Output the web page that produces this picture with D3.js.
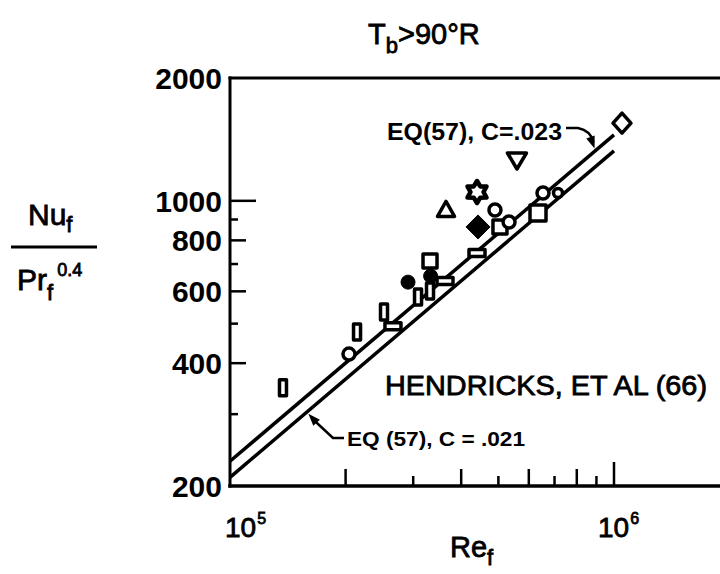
<!DOCTYPE html>
<html><head><meta charset="utf-8">
<script src="https://cdn.jsdelivr.net/npm/d3@7"></script>
<style>
html,body{margin:0;padding:0;background:#fff;}
svg{display:block;}
text{font-family:"Liberation Sans",Arial,sans-serif;fill:#000;}
.heavy{stroke:#000;stroke-width:0.8px;}
</style></head><body>
<svg id="chart" width="720" height="574"></svg>
<script>
// Test runs: Reynolds number, Nu/Pr^0.4 and plotting symbol
const runRe = [1.374e5, 2.142e5, 2.041e5, 2.518e5, 2.657e5, 2.908e5, 3.088e5, 3.318e5, 3.318e5, 3.33e5,
               3.63e5, 4.398e5, 4.425e5, 3.652e5, 4.398e5, 5.588e5, 4.898e5, 5.047e5, 5.329e5, 6.34e5,
               6.533e5, 7.148e5, 1.049e6];
const runNu = [348, 477, 421, 534, 493, 632, 581, 712, 601, 654,
               636, 745, 863, 950, 1051, 1259, 950, 863, 887, 934,
               1045, 1045, 1551];
const runSymbol = ["bar", "bar", "ring", "bar", "slab", "dot", "bar", "square", "bar", "dot",
                   "slab", "slab", "diamondFilled", "triUp", "star", "triDown", "ring", "square", "ring", "bigSquare",
                   "ring", "smallRing", "diamond"];

// EQ(57) correlation lines, Nu/Pr^0.4 = C Re^0.8, at the ends of the Re range
const eqRe = [1e5, 1e6];
const eqC023 = [230, 1451];
const eqC021 = [210, 1325];

// Axis ticks and labels
const yTickValues = [300, 400, 500, 600, 700, 800, 900, 1000];
const yLabelValues = [200, 400, 600, 800, 1000, 2000];
const xTickValues = [2e5, 3e5, 4e5, 5e5, 6e5, 7e5, 8e5, 9e5, 1e6];
const xLabelValues = [1e5, 1e6];

const W = 720, H = 574;
const svg = d3.select("#chart");

const x = d3.scaleLog().domain([1e5, 1e6]).range([230, 614]);
const y = d3.scaleLog().domain([200, 2000]).range([486, 78]);

const x0 = x.range()[0], yBot = y.range()[0], yTop = y.range()[1];

// Frame: left axis, bottom axis and top rule run off to the right edge
const frame = svg.append("g").attr("stroke", "#000").attr("fill", "none").attr("stroke-linecap", "square");
frame.append("line").attr("x1", x0).attr("x2", x0).attr("y1", yTop).attr("y2", yBot).attr("stroke-width", 3);
frame.append("line").attr("x1", x0).attr("x2", W).attr("y1", yBot).attr("y2", yBot).attr("stroke-width", 3.5);
frame.append("line").attr("x1", x0).attr("x2", W).attr("y1", yTop).attr("y2", yTop).attr("stroke-width", 3);

// Inward ticks: decade ticks longest, even multiples medium, odd multiples short
const yLen = v => v === 1000 ? 26 : ((v / 100) % 2 === 0 ? 16 : 8);
const xLen = v => v === 1e6 ? 24 : ((Math.round(v / 1e5)) % 2 === 0 ? 17 : 10);

frame.selectAll("line.yt").data(yTickValues).join("line").attr("class", "yt")
  .attr("x1", x0).attr("x2", d => x0 + yLen(d))
  .attr("y1", d => y(d)).attr("y2", d => y(d)).attr("stroke-width", 2.5).attr("stroke-linecap", "butt");
frame.selectAll("line.xt").data(xTickValues).join("line").attr("class", "xt")
  .attr("x1", d => x(d)).attr("x2", d => x(d))
  .attr("y1", yBot).attr("y2", d => yBot - xLen(d)).attr("stroke-width", 2.5).attr("stroke-linecap", "butt");

// Y tick labels
svg.selectAll("text.yl").data(yLabelValues).join("text").attr("class", "yl")
  .attr("x", x0 - 8).attr("y", d => y(d) + 11)
  .attr("text-anchor", "end").attr("font-size", 30).attr("font-weight", "bold")
  .text(d => d);

// X tick labels as powers of ten
const xl = svg.selectAll("text.xl").data(xLabelValues).join("text").attr("class", "xl heavy")
  .attr("x", d => x(d) + (d === 1e5 ? -5 : -16)).attr("y", 537)
  .attr("font-size", 28);
xl.append("tspan").text("10");
xl.append("tspan").attr("dy", -13).attr("dx", 1).attr("font-size", 16).text(d => Math.round(Math.log10(d)));

// Correlation lines
const eqLine = d3.line().x(d => x(d[0])).y(d => y(d[1]));
[eqC023, eqC021].forEach(vals => {
  svg.append("path").datum(eqRe.map((r, i) => [r, vals[i]]))
    .attr("d", eqLine).attr("fill", "none").attr("stroke", "#000").attr("stroke-width", 3.5);
});

// Point on a correlation line at a given Re (straight in log-log)
function onLine(vals, re) {
  const t = (Math.log10(re) - Math.log10(eqRe[0])) / (Math.log10(eqRe[1]) - Math.log10(eqRe[0]));
  const v = Math.pow(10, Math.log10(vals[0]) + t * (Math.log10(vals[1]) - Math.log10(vals[0])));
  return [x(re), y(v)];
}

// Symbols
const circle = r => d3.arc()({innerRadius: 0, outerRadius: r, startAngle: 0, endAngle: 2 * Math.PI});
function symbolPath(kind) {
  switch (kind) {
    case "bar": return "M-3.5,-8h7v16h-7z";
    case "slab": return "M-8,-3.5h16v7h-16z";
    case "square": return "M-7,-7h14v14h-14z";
    case "bigSquare": return "M-8,-8h16v16h-16z";
    case "ring": return circle(6);
    case "smallRing": return circle(4.5);
    case "dot": return circle(7);
    case "diamondFilled": return "M0,-12L12,0L0,12L-12,0z";
    case "diamond": return "M0,-10L9,0L0,10L-9,0z";
    case "triUp": return "M0,-8.5L8.5,6.5L-8.5,6.5z";
    case "triDown": return "M-9.5,-7L9.5,-7L0,9z";
    case "star": {
      const pts = [];
      for (let i = 0; i < 12; i++) {
        const a = -Math.PI / 2 + i * Math.PI / 6;
        const r = i % 2 === 0 ? 11 : 6.5;
        pts.push([r * Math.cos(a), r * Math.sin(a)]);
      }
      return "M" + pts.map(p => p.join(",")).join("L") + "Z";
    }
  }
}
const filled = k => k === "dot" || k === "diamondFilled";

const runs = runRe.map((r, i) => ({re: r, nu: runNu[i], kind: runSymbol[i]}));
svg.append("g").selectAll("path").data(runs).join("path")
  .attr("transform", d => `translate(${x(d.re)},${y(d.nu)})`)
  .attr("d", d => symbolPath(d.kind))
  .attr("fill", d => filled(d.kind) ? "#000" : "#fff")
  .attr("stroke", "#000")
  .attr("stroke-width", d => filled(d.kind) ? 1 : (d.kind === "star" ? 4.5 : 3.5))
  .attr("stroke-linejoin", "round");

// Arrowhead helper
function arrowHead(tip, from, size) {
  const ang = Math.atan2(tip[1] - from[1], tip[0] - from[0]);
  const a1 = ang + Math.PI - 0.35, a2 = ang + Math.PI + 0.35;
  return `M${tip[0]},${tip[1]}L${tip[0] + size * Math.cos(a1)},${tip[1] + size * Math.sin(a1)}L${tip[0] + size * Math.cos(a2)},${tip[1] + size * Math.sin(a2)}Z`;
}

// Upper annotation
svg.append("text").attr("x", 387).attr("y", 140).attr("font-size", 23).attr("font-weight", "bold")
  .attr("textLength", 175).attr("lengthAdjust", "spacingAndGlyphs").text("EQ(57),  C=.023");
const tipU = onLine(eqC023, 8.9e5);
tipU[1] -= 3;
const ctrlU = [tipU[0] - 4, tipU[1] - 20];
svg.append("path").attr("d", `M566,128L578,128Q${ctrlU[0]},${ctrlU[1] + 2} ${tipU[0] - 1},${tipU[1] - 6}`)
  .attr("fill", "none").attr("stroke", "#000").attr("stroke-width", 2.5);
svg.append("path").attr("d", arrowHead(tipU, [tipU[0] - 5, tipU[1] - 14], 13)).attr("fill", "#000");

// Lower annotation
svg.append("text").attr("x", 347).attr("y", 446).attr("font-size", 20).attr("font-weight", "bold")
  .attr("textLength", 178).attr("lengthAdjust", "spacingAndGlyphs").text("EQ (57),  C = .021");
const tipL = onLine(eqC021, 1.6e5);
tipL[1] += 3;
svg.append("path").attr("d", `M344,438L333,438L${tipL[0] + 4},${tipL[1] + 5}`)
  .attr("fill", "none").attr("stroke", "#000").attr("stroke-width", 2.5);
svg.append("path").attr("d", arrowHead(tipL, [tipL[0] + 10, tipL[1] + 11], 13)).attr("fill", "#000");

// Source label
svg.append("text").attr("class", "heavy").attr("x", 385).attr("y", 395).attr("font-size", 27)
  .attr("textLength", 322).attr("lengthAdjust", "spacingAndGlyphs").text("HENDRICKS, ET AL (66)");

// Title
const title = svg.append("text").attr("class", "heavy").attr("x", 368).attr("y", 44).attr("font-size", 29);
title.append("tspan").text("T");
title.append("tspan").attr("dy", 9).attr("font-size", 22).text("b");
title.append("tspan").attr("dy", -9).text(">90°R");

// X axis title
const xt = svg.append("text").attr("class", "heavy").attr("x", 450).attr("y", 557).attr("font-size", 29);
xt.append("tspan").text("Re");
xt.append("tspan").attr("dy", 8).attr("font-size", 22).text("f");

// Y axis title as a fraction
const nu = svg.append("text").attr("class", "heavy").attr("x", 28).attr("y", 225).attr("font-size", 30);
nu.append("tspan").text("Nu");
nu.append("tspan").attr("dy", 7).attr("font-size", 22).text("f");
svg.append("line").attr("x1", 11).attr("x2", 97).attr("y1", 247).attr("y2", 247)
  .attr("stroke", "#000").attr("stroke-width", 3);
const pr = svg.append("text").attr("class", "heavy").attr("x", 17).attr("y", 290).attr("font-size", 30);
pr.append("tspan").text("Pr");
pr.append("tspan").attr("dy", 10).attr("font-size", 22).text("f");
pr.append("tspan").attr("dy", -24).attr("dx", 4).attr("font-size", 18).text("0.4");
</script>
</body></html>
